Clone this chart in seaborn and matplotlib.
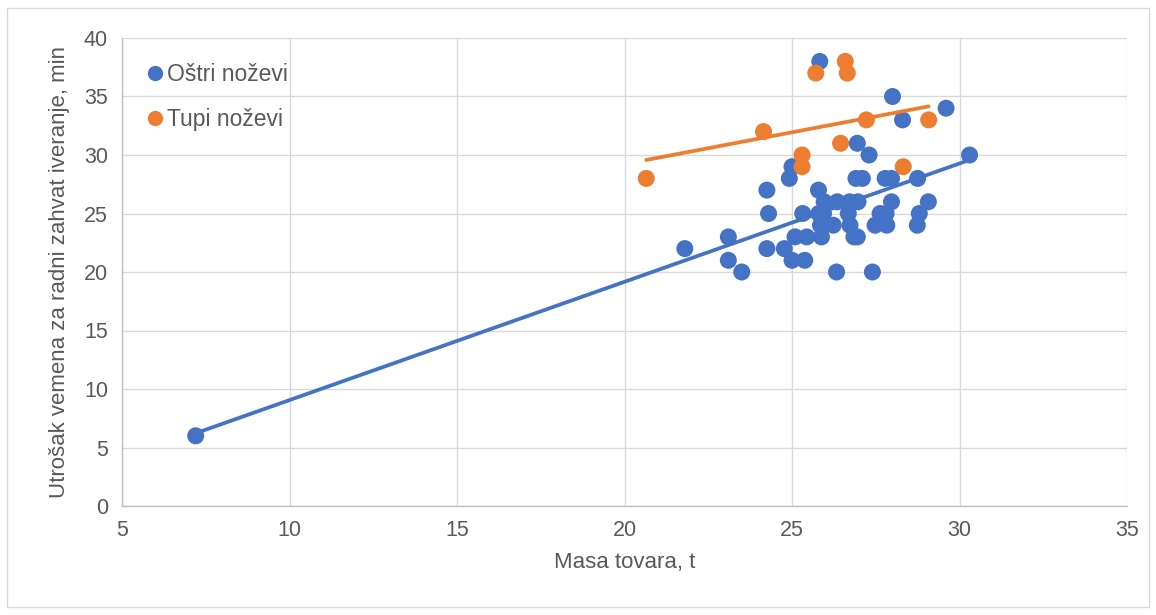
import numpy as np
import pandas as pd
import matplotlib
matplotlib.use("Agg")
import matplotlib.pyplot as plt
import seaborn as sns
from matplotlib.lines import Line2D
from matplotlib.patches import Rectangle
from matplotlib import font_manager

# ---- data ----
series_names = ["Oštri noževi", "Tupi noževi"]

sharp_mass = [7.2, 21.8, 23.1, 23.1, 23.5, 24.25, 24.3, 24.25, 24.77, 24.92,
              25.0, 25.0, 25.09, 25.32, 25.38, 25.44, 25.79, 25.8, 25.94, 25.85,
              25.88, 25.83, 25.96, 26.23, 26.35, 26.33, 26.68, 26.72, 26.73, 26.85,
              26.95, 26.97, 26.91, 27.1, 26.95, 27.3, 27.4, 27.48, 27.63, 27.81,
              27.83, 27.78, 27.97, 27.97, 28.0, 28.3, 28.75, 28.8, 28.74, 29.07,
              29.6, 30.3]
sharp_time = [6, 22, 23, 21, 20, 27, 25, 22, 22, 28,
              29, 21, 23, 25, 21, 23, 27, 25, 25, 24,
              23, 38, 26, 24, 26, 20, 25, 26, 24, 23,
              23, 26, 28, 28, 31, 30, 20, 24, 25, 25,
              24, 28, 28, 26, 35, 33, 28, 25, 24, 26,
              34, 30]

dull_mass = [26.59, 25.71, 26.65, 24.15, 27.22, 29.08, 26.45, 25.3, 25.3, 28.32, 20.65]
dull_time = [38, 37, 37, 32, 33, 33, 31, 30, 29, 29, 28]

x_ticks = [5, 10, 15, 20, 25, 30, 35]
y_ticks = [0, 5, 10, 15, 20, 25, 30, 35, 40]
x_label = "Masa tovara, t"
y_label = "Utrošak vemena za radni zahvat iveranje, min"

colors = {"Oštri noževi": "#4472C4", "Tupi noževi": "#ED7D31"}

df = pd.concat([
    pd.DataFrame({"mass": sharp_mass, "time": sharp_time, "series": series_names[0]}),
    pd.DataFrame({"mass": dull_mass, "time": dull_time, "series": series_names[1]}),
], ignore_index=True)

# ---- style ----
sns.set_theme(style="white")
installed = {f.name for f in font_manager.fontManager.ttflist}
fam = "Liberation Sans Narrow" if "Liberation Sans Narrow" in installed else "Liberation Sans"
plt.rcParams["font.family"] = [fam, "DejaVu Sans"]
text_color = "#595959"

fig = plt.figure(figsize=(11.56, 6.15), dpi=100)
ax = fig.add_axes([122 / 1156, 1 - 506 / 615, (1127 - 122) / 1156, (506 - 38) / 615])

# chart border
fig.patches.append(Rectangle((7 / 1156, 8 / 615), (1149 - 7) / 1156, (607 - 8) / 615,
                             transform=fig.transFigure, fill=False,
                             edgecolor="#d9d9d9", linewidth=1.0))

sns.scatterplot(data=df, x="mass", y="time", hue="series", palette=colors,
                s=150, linewidth=0, ax=ax, legend=False, zorder=3)

for name in series_names:
    sub = df[df["series"] == name]
    sns.regplot(data=sub, x="mass", y="time", scatter=False, ci=None, truncate=True,
                ax=ax, line_kws={"color": colors[name], "linewidth": 2.7, "zorder": 4,
                                 "solid_capstyle": "round"})

ax.set_xlim(5, 35)
ax.set_ylim(0, 40)
ax.set_xticks(x_ticks)
ax.set_yticks(y_ticks)
ax.grid(True, color="#d9d9d9", linewidth=1.0)
ax.set_axisbelow(True)
for side in ["top", "right"]:
    ax.spines[side].set_visible(False)
for side in ["left", "bottom"]:
    ax.spines[side].set_color("#bfbfbf")
    ax.spines[side].set_linewidth(1.0)
ax.tick_params(axis="both", length=0, labelsize=15.5, colors=text_color, pad=10)
ax.set_xlabel(x_label, fontsize=16, color=text_color, labelpad=8)
ax.set_ylabel(y_label, fontsize=16, color=text_color, labelpad=10)

handles = [Line2D([], [], linestyle="none", marker="o", markersize=11,
                  markerfacecolor=colors[n], markeredgewidth=0) for n in series_names]
leg = ax.legend(handles, series_names, loc="upper left", bbox_to_anchor=(0.005, 0.98),
                frameon=False, fontsize=16.5, handletextpad=0.05, handlelength=1.0,
                labelspacing=0.95, borderaxespad=0.3)
for t in leg.get_texts():
    t.set_color(text_color)

fig.savefig("out.png", dpi=100)
